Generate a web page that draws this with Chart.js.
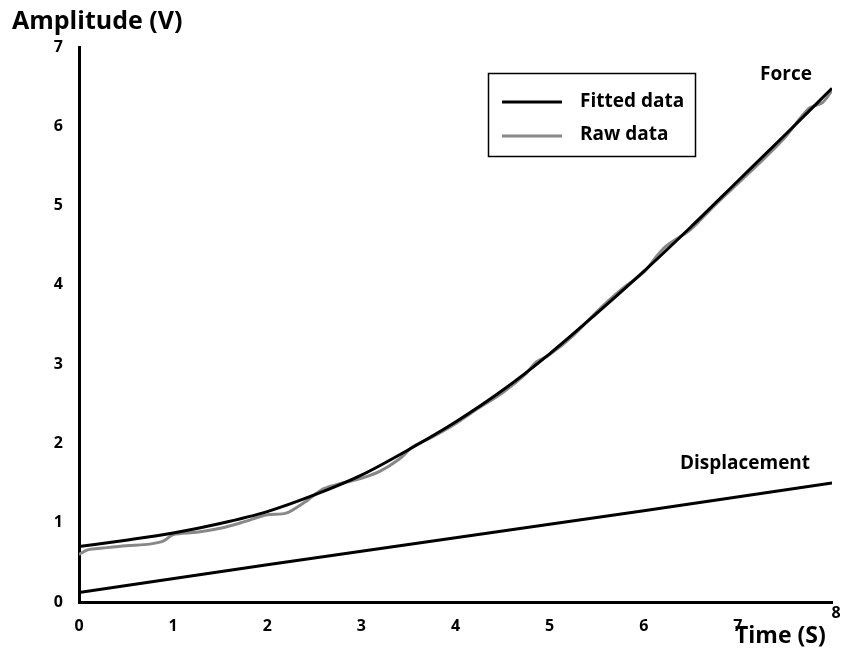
<!DOCTYPE html>
<html lang="en">
<head>
    <meta charset="UTF-8">
    <title>Amplitude vs Time</title>
    <script src="https://cdn.jsdelivr.net/npm/chart.js@4.4.0/dist/chart.umd.min.js"></script>
    <style>
        html, body { margin: 0; padding: 0; background: #fff; }
        #chart { display: block; }
    </style>
</head>
<body>
    <canvas id="chart" width="843" height="656"></canvas>

    <script>
        // values
        var timeFit  = [0, 0.5, 1, 1.5, 2, 2.5, 3, 3.5, 4, 4.5, 5, 5.5, 6, 6.5, 7, 7.5, 8];
        var forceFit = [0.70, 0.78, 0.87, 0.99, 1.14, 1.35, 1.60, 1.92, 2.27, 2.67, 3.13, 3.64, 4.17, 4.73, 5.31, 5.89, 6.48];

        var timeRaw  = [0, 0.1, 0.25, 0.5, 0.75, 0.9, 1.0, 1.25, 1.5, 1.75, 2.0, 2.2, 2.4, 2.6, 2.8, 3.0, 3.2, 3.4, 3.55, 3.75, 4.0, 4.25, 4.5, 4.75, 4.85, 5.0, 5.25, 5.5, 5.75, 6.0, 6.15, 6.25, 6.5, 6.75, 7.0, 7.25, 7.5, 7.75, 7.9, 8.0];
        var forceRaw = [0.60, 0.66, 0.68, 0.71, 0.73, 0.77, 0.85, 0.88, 0.93, 1.01, 1.10, 1.12, 1.26, 1.43, 1.50, 1.56, 1.65, 1.80, 1.96, 2.08, 2.25, 2.45, 2.64, 2.88, 3.02, 3.12, 3.36, 3.66, 3.93, 4.16, 4.38, 4.50, 4.70, 5.00, 5.28, 5.56, 5.86, 6.22, 6.30, 6.45];

        var timeDisp = [0, 2, 4, 6, 8];
        var dispFit  = [0.12, 0.47, 0.81, 1.15, 1.50];

        var yTicks = [0, 1, 2, 3, 4, 5, 6, 7];
        var xTicks = [0, 1, 2, 3, 4, 5, 6, 7, 8];

        function pts(xs, ys) {
            return xs.map(function (x, i) { return { x: x, y: ys[i] }; });
        }

        var FONT = '"Open Sans", sans-serif';
        var xMax = xTicks[xTicks.length - 1];

        // axis titles, curve labels and the boxed legend
        var labelsPlugin = {
            id: 'labels',
            afterDraw: function (chart) {
                var ctx = chart.ctx;
                var xs = chart.scales.x;
                ctx.save();
                ctx.fillStyle = '#000';
                ctx.textBaseline = 'middle';

                // last x tick sits raised above the axis title, as in the original
                ctx.font = 'bold 16px ' + FONT;
                ctx.textAlign = 'center';
                ctx.fillText(String(xMax), xs.getPixelForValue(xMax) + 4, 613);

                ctx.font = 'bold 25px ' + FONT;
                ctx.textAlign = 'left';
                ctx.fillText('Amplitude (V)', 12, 22);
                ctx.font = 'bold 23px ' + FONT;
                ctx.fillText('Time (S)', 735, 636);

                ctx.font = 'bold 19px ' + FONT;
                ctx.textAlign = 'center';
                ctx.fillText('Force', 786, 75);
                ctx.fillText('Displacement', 745, 464);

                // legend box
                ctx.lineWidth = 1.5;
                ctx.strokeStyle = '#000';
                ctx.strokeRect(488.5, 73.5, 207, 83);

                ctx.lineWidth = 3;
                ctx.beginPath();
                ctx.moveTo(502, 102);
                ctx.lineTo(562, 102);
                ctx.stroke();

                ctx.strokeStyle = '#888';
                ctx.beginPath();
                ctx.moveTo(502, 136);
                ctx.lineTo(562, 136);
                ctx.stroke();

                ctx.font = 'bold 19px ' + FONT;
                ctx.textAlign = 'left';
                ctx.fillText('Fitted data', 580, 102);
                ctx.fillText('Raw data', 580, 135);
                ctx.restore();
            }
        };

        var ctx = document.getElementById('chart').getContext('2d');
        var chart = new Chart(ctx, {
            type: 'line',
            data: {
                datasets: [
                    {
                        label: 'Fitted data',
                        data: pts(timeFit, forceFit),
                        borderColor: '#000',
                        borderWidth: 3,
                        pointRadius: 0,
                        cubicInterpolationMode: 'monotone',
                        order: 1
                    },
                    {
                        label: 'Fitted displacement',
                        data: pts(timeDisp, dispFit),
                        borderColor: '#000',
                        borderWidth: 3,
                        pointRadius: 0,
                        cubicInterpolationMode: 'monotone',
                        order: 1
                    },
                    {
                        label: 'Raw data',
                        data: pts(timeRaw, forceRaw),
                        borderColor: '#888',
                        borderWidth: 3,
                        pointRadius: 0,
                        tension: 0.3,
                        order: 2
                    }
                ]
            },
            options: {
                responsive: false,
                animation: false,
                layout: { padding: { top: 47, right: 11, left: 0, bottom: 0 } },
                plugins: {
                    legend: { display: false },
                    tooltip: { enabled: false }
                },
                scales: {
                    x: {
                        type: 'linear',
                        min: 0,
                        max: xMax,
                        afterBuildTicks: function (s) { s.ticks = xTicks.map(function (v) { return { value: v }; }); },
                        afterFit: function (s) {
                            s.height = 54;
                            s.paddingLeft = 0;
                            s.paddingRight = 0;
                        },
                        grid: { display: false, drawTicks: false },
                        border: { display: true, color: '#000', width: 3 },
                        ticks: {
                            color: '#000',
                            padding: 15,
                            maxRotation: 0,
                            font: { family: FONT, size: 16, weight: 'bold' },
                            callback: function (v) { return v === xMax ? '' : v; }
                        }
                    },
                    y: {
                        type: 'linear',
                        min: 0,
                        max: 7,
                        afterBuildTicks: function (s) { s.ticks = yTicks.map(function (v) { return { value: v }; }); },
                        afterFit: function (s) { s.width = 79; },
                        grid: { display: false, drawTicks: false },
                        border: { display: true, color: '#000', width: 3 },
                        ticks: {
                            color: '#000',
                            padding: 16,
                            font: { family: FONT, size: 16, weight: 'bold' }
                        }
                    }
                }
            },
            plugins: [labelsPlugin]
        });
    </script>
</body>
</html>
